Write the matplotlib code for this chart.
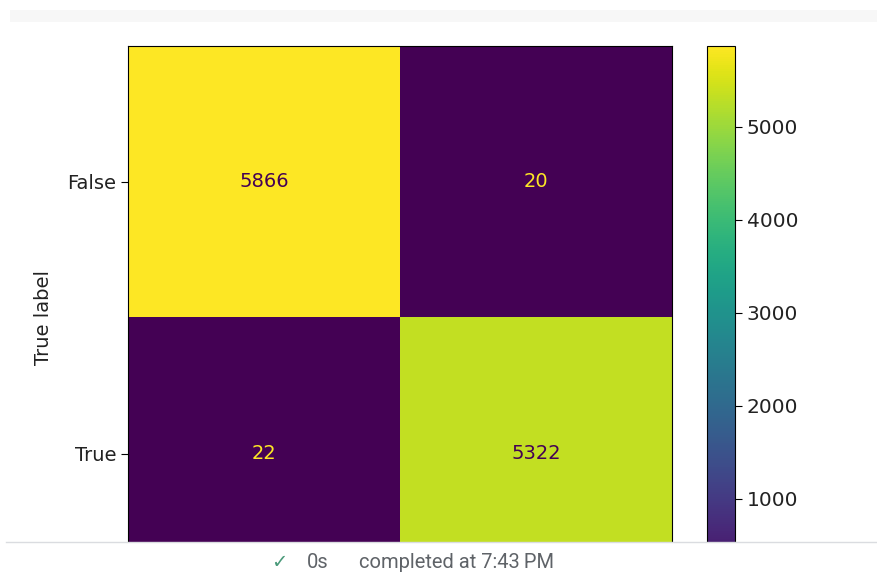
import numpy as np
import matplotlib
matplotlib.use('Agg')
import matplotlib.pyplot as plt
from matplotlib.patches import Rectangle
from matplotlib.lines import Line2D

# confusion matrix values
labels = ['False', 'True']
counts = [[5866, 20],
          [22, 5322]]
cbar_ticks = [1000, 2000, 3000, 4000, 5000]

W, H = 878, 573
fig = plt.figure(figsize=(W / 100, H / 100), dpi=100)

# axes run past the bottom edge, the notebook status bar covers the rest
ax = fig.add_axes([128 / W, 1 - 590 / H, 544 / W, 544 / H])
cax = fig.add_axes([707 / W, 1 - 590 / H, 28 / W, 544 / H])

cm = np.array(counts)
cmap = plt.get_cmap('viridis')
im = ax.imshow(cm, cmap=cmap, vmin=cm.min(), vmax=cm.max(), aspect='auto')

thresh = (cm.max() + cm.min()) / 2
for i in range(cm.shape[0]):
    for j in range(cm.shape[1]):
        colour = cmap(0.0) if cm[i, j] > thresh else cmap(1.0)
        ax.text(j, i, str(cm[i, j]), ha='center', va='center',
                color=colour, fontsize=14)

ax.set_yticks(range(len(labels)))
ax.set_yticklabels(labels, fontsize=14, color='#222222')
ax.set_xticks([])
ax.set_ylabel('True label', fontsize=14, labelpad=10, color='#222222')
ax.tick_params(axis='y', length=5)

cb = fig.colorbar(im, cax=cax)
cb.set_ticks(cbar_ticks)
cb.ax.tick_params(labelsize=14.5, length=5, labelcolor='#222222')

# grey strip at the top of the cell
fig.add_artist(Rectangle((10 / W, 1 - 22 / H), 1, 12 / H, transform=fig.transFigure,
                         facecolor='#f7f7f7', edgecolor='none', zorder=10))

# status bar
fig.add_artist(Rectangle((0, 0), 1, 1 - 542 / H, transform=fig.transFigure,
                         facecolor='white', edgecolor='none', zorder=10))
fig.add_artist(Line2D([6 / W, 1], [1 - 542 / H, 1 - 542 / H], transform=fig.transFigure,
                      color='#dadce0', linewidth=1, zorder=11))
fig.text(271 / W, 1 - 562 / H, '\u2713', color='#4a9a7a', fontsize=14,
         family=['DejaVu Sans'], va='center', zorder=12)
fig.text(307 / W, 1 - 562 / H, '0s', color='#5f6368', fontsize=14.5,
         family=['Roboto', 'DejaVu Sans'], va='center', zorder=12)
fig.text(359 / W, 1 - 562 / H, 'completed at 7:43\u2009PM', color='#5f6368', fontsize=14.5,
         family=['Roboto', 'DejaVu Sans'], va='center', zorder=12)

fig.savefig('out.png', dpi=100)
